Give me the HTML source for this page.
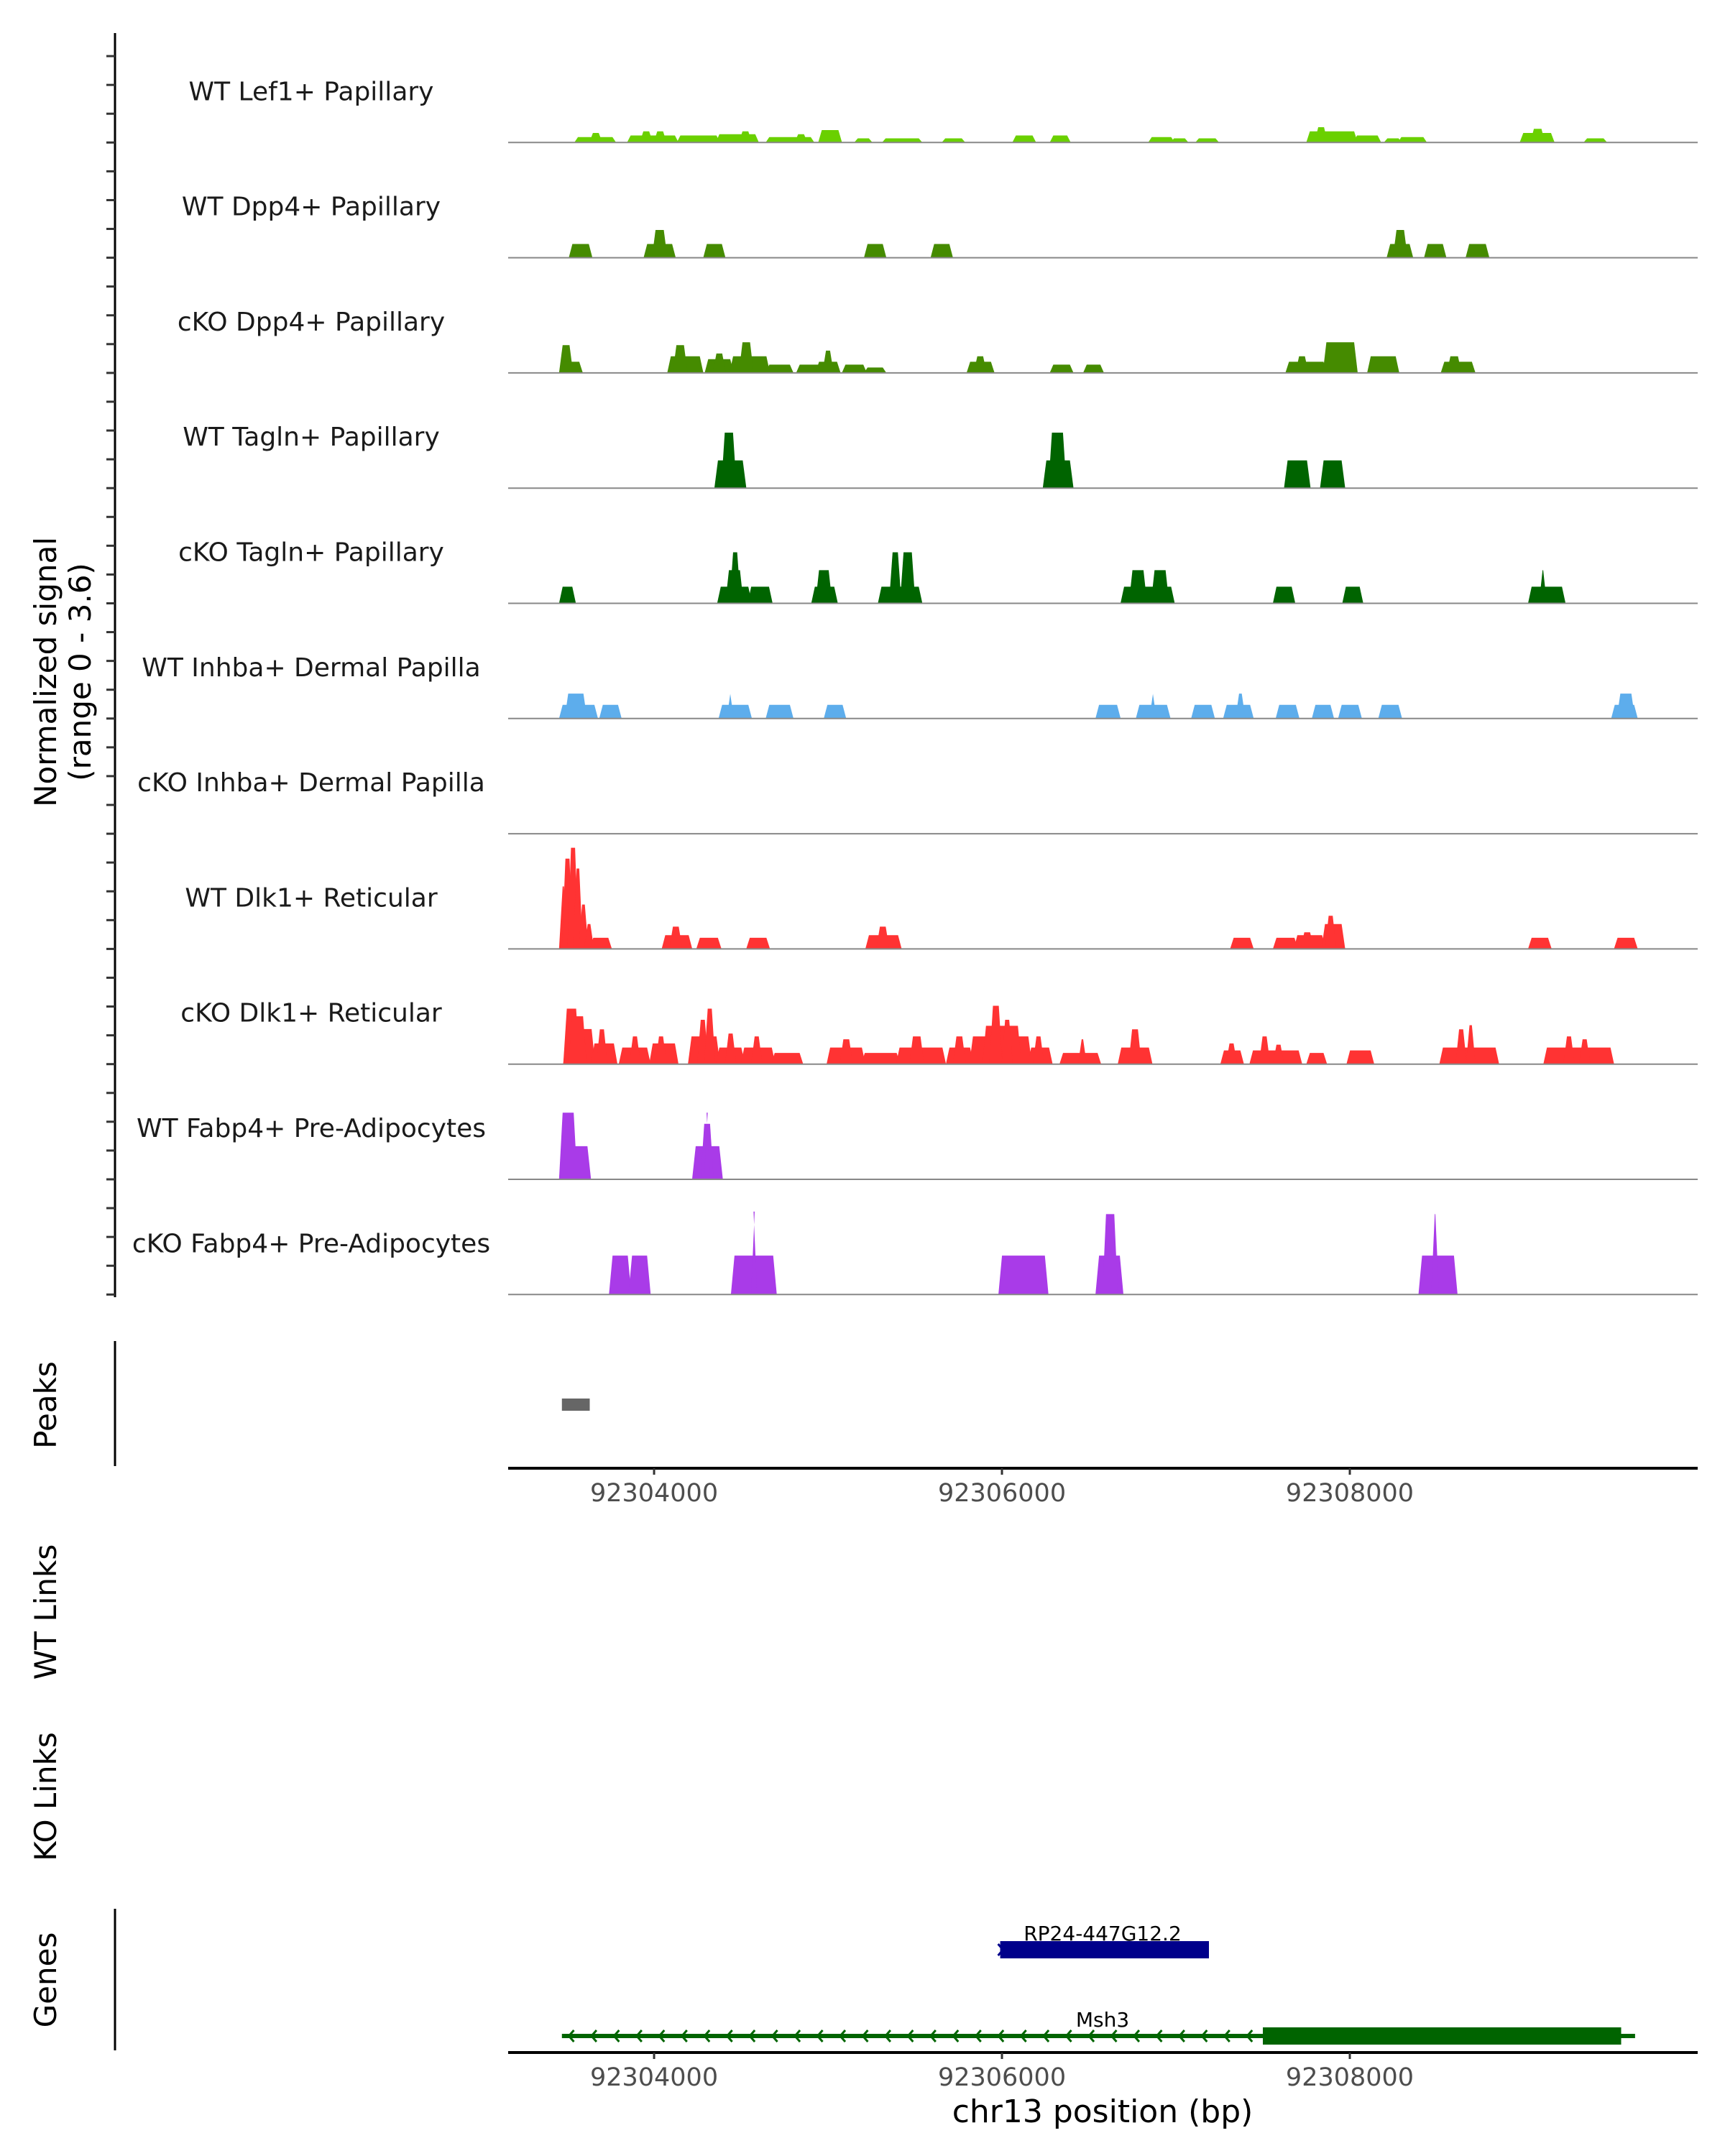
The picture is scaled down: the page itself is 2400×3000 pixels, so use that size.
<!DOCTYPE html>
<html><head><meta charset="utf-8"><style>
html,body{margin:0;padding:0;background:#fff}
svg{display:block}
text{font-family:"DejaVu Sans","Liberation Sans",sans-serif}
</style></head><body>
<svg id="fig" width="2400" height="3000" viewBox="0 0 2400 3000" xmlns="http://www.w3.org/2000/svg">
<g id="tracks"></g>
<g id="axes"></g>
</svg>
<script>
const trackNames = ["WT Lef1+ Papillary","WT Dpp4+ Papillary","cKO Dpp4+ Papillary","WT Tagln+ Papillary","cKO Tagln+ Papillary","WT Inhba+ Dermal Papilla","cKO Inhba+ Dermal Papilla","WT Dlk1+ Reticular","cKO Dlk1+ Reticular","WT Fabp4+ Pre-Adipocytes","cKO Fabp4+ Pre-Adipocytes"];
const trackColors = ["#6ad000","#458b00","#458b00","#006400","#006400","#5dadec","#5dadec","#ff3333","#ff3333","#a93be8","#a93be8"];
// segments: [start offset from 92300000, end offset, normalized signal]
const lef1WT = [[3554,3769,0.17],[3640,3690,0.3],[3857,4128,0.22],[3930,3980,0.35],[4010,4060,0.35],[4143,4367,0.22],[4367,4590,0.26],[4500,4550,0.35],[4654,4909,0.17],[4820,4870,0.26],[4956,5068,0.39],[5163,5243,0.13],[5323,5530,0.13],[5666,5777,0.13],[6072,6184,0.22],[6287,6383,0.22],[6853,6981,0.17],[6981,7060,0.13],[7124,7236,0.13],[7762,8033,0.35],[7810,7860,0.48],[8033,8168,0.22],[8208,8288,0.13],[8288,8431,0.17],[8989,9165,0.3],[9050,9110,0.43],[9356,9467,0.13]];
const dpp4WT = [[3522,3633,0.43],[3952,4112,0.43],[4000,4064,0.87],[4295,4398,0.43],[5219,5323,0.43],[5602,5706,0.43],[8224,8352,0.43],[8260,8320,0.87],[8439,8543,0.43],[8678,8790,0.43]];
const dpp4KO = [[3466,3522,0.87],[3466,3578,0.35],[4088,4271,0.52],[4120,4180,0.87],[4303,4446,0.43],[4350,4400,0.61],[4446,4654,0.52],[4500,4560,0.96],[4654,4789,0.26],[4829,4964,0.26],[4940,5060,0.35],[4980,5020,0.7],[5092,5211,0.26],[5219,5323,0.17],[5809,5945,0.35],[5850,5900,0.52],[6287,6399,0.26],[6479,6574,0.26],[7642,7857,0.35],[7700,7750,0.52],[7857,8033,0.96],[8112,8272,0.52],[8535,8710,0.35],[8570,8630,0.52]];
const taglnWT = [[4359,4518,0.87],[4398,4462,1.74],[6247,6399,0.87],[6279,6359,1.74],[7634,7762,0.87],[7841,7961,0.87]];
const taglnKO = [[3466,3538,0.52],[4375,4550,0.52],[4422,4502,1.04],[4446,4486,1.6],[4550,4669,0.52],[4916,5044,0.52],[4940,5012,1.04],[5299,5530,0.52],[5363,5410,1.6],[5426,5490,1.6],[6694,6981,0.52],[6742,6822,1.04],[6869,6949,1.04],[7570,7674,0.52],[7969,8065,0.52],[9037,9228,0.52],[9100,9120,1.04]];
const inhbaWT = [[3466,3665,0.43],[3498,3602,0.78],[3697,3801,0.43],[4383,4550,0.43],[4430,4446,0.78],[4654,4789,0.43],[4988,5092,0.43],[6550,6670,0.43],[6782,6957,0.43],[6860,6876,0.78],[7100,7212,0.43],[7284,7435,0.43],[7355,7387,0.78],[7586,7698,0.43],[7794,7897,0.43],[7945,8057,0.43],[8176,8288,0.43],[9515,9643,0.43],[9547,9627,0.78]];
const inhbaKO = [];
const dlk1WT = [[3466,3490,1.96],[3482,3522,2.83],[3514,3554,3.17],[3546,3578,2.52],[3578,3610,1.39],[3610,3642,0.78],[3642,3745,0.35],[4056,4207,0.43],[4100,4150,0.7],[4255,4375,0.35],[4542,4654,0.35],[5227,5411,0.43],[5290,5340,0.7],[7324,7435,0.35],[7570,7690,0.35],[7690,7849,0.43],[7730,7780,0.52],[7849,7961,0.78],[7870,7910,1.04],[9037,9148,0.35],[9531,9643,0.35]];
const dlk1KO = [[3490,3649,1.1],[3490,3560,1.74],[3520,3600,1.5],[3649,3777,0.65],[3680,3720,1.09],[3809,3968,0.52],[3870,3910,0.87],[3984,4128,0.65],[4020,4060,0.87],[4207,4367,0.87],[4260,4300,1.39],[4300,4340,1.74],[4367,4510,0.52],[4420,4460,0.96],[4510,4685,0.52],[4570,4610,0.87],[4685,4845,0.35],[5004,5203,0.52],[5080,5130,0.78],[5203,5403,0.35],[5403,5666,0.52],[5480,5540,0.87],[5690,5825,0.52],[5730,5780,0.87],[5825,6160,0.87],[5900,6100,1.2],[5940,5990,1.83],[6010,6050,1.39],[6160,6279,0.52],[6190,6230,0.87],[6343,6558,0.35],[6450,6475,0.78],[6678,6853,0.52],[6740,6790,1.09],[7268,7379,0.43],[7300,7340,0.65],[7435,7714,0.43],[7490,7530,0.87],[7570,7610,0.61],[7762,7857,0.35],[7993,8128,0.43],[8527,8846,0.52],[8620,8660,1.09],[8680,8710,1.22],[9125,9507,0.52],[9240,9280,0.87],[9330,9370,0.78]];
const fabp4WT = [[3466,3546,2.09],[3466,3625,1.04],[4231,4383,1.04],[4280,4330,1.74],[4300,4310,2.09]];
const fabp4KO = [[3753,3857,1.22],[3865,3968,1.22],[4454,4693,1.22],[4570,4580,2.6],[5992,6255,1.22],[6550,6686,1.22],[6590,6654,2.52],[8407,8607,1.22],[8480,8500,2.52]];
const trackData = [lef1WT,dpp4WT,dpp4KO,taglnWT,taglnKO,inhbaWT,inhbaKO,dlk1WT,dlk1KO,fabp4WT,fabp4KO];
const xTicks = [92304000,92306000,92308000];
const peaks = [[92303470,92303630]];
const genes = [
 {name:"RP24-447G12.2", start:92305990, end:92307190, cds:[92305990,92307190], strand:1, color:"#00008b", row:0},
 {name:"Msh3", start:92303470, end:92309640, cds:[92307500,92309560], strand:-1, color:"#006400", row:1}
];

const NS="http://www.w3.org/2000/svg";
const X0=707, X1=2362, BP0=92303161, BP1=92310000;
function xs(bp){return X0+(bp-BP0)*(X1-X0)/(BP1-BP0);}
const TOP=38, TH=160.3, YPU=44.4;
function mk(tag,attrs,parent){const e=document.createElementNS(NS,tag);for(const k in attrs)e.setAttribute(k,attrs[k]);parent.appendChild(e);return e;}
const tg=document.getElementById('tracks');
const ag=document.getElementById('axes');

trackData.forEach((segs,i)=>{
  const base=TOP+TH*(i+1);
  const g=mk('g',{},tg);
  
  
  const lab=mk('text',{x:433,y:base-59,'text-anchor':'middle','font-size':36,fill:'#1a1a1a'},g);
  lab.textContent=trackNames[i];
  
  
  segs.forEach(s=>{
    const a=xs(92300000+s[0]), b=xs(92300000+s[1]), h=s[2]*YPU;
    const p=mk('polygon',{points:`${a-3},${base} ${a+2},${base-h} ${b-2},${base-h} ${b+3},${base}`,fill:trackColors[i]},g);
    
    
  });
  const bl=mk('line',{x1:X0,x2:X1,y1:base,y2:base,stroke:'#888',"stroke-width":2},g);
  
  
});

// left signal axis
let l=mk('line',{x1:160,x2:160,y1:46,y2:1805,stroke:'#000','stroke-width':3},ag);


for(let i=0;i<11;i++){
  for(let k=0;k<4;k++){
    const y=TOP+TH*i+TH*(k+1)/4;
    const t=mk('line',{x1:148,x2:160,y1:y,y2:y,stroke:'#333','stroke-width':3},ag);
    
    
  }
}
let yt=mk('text',{transform:'translate(78,935) rotate(-90)','text-anchor':'middle','font-size':42,fill:'#000'},ag);
yt.textContent='Normalized signal';


let yt2=mk('text',{transform:'translate(126,935) rotate(-90)','text-anchor':'middle','font-size':42,fill:'#000'},ag);
yt2.textContent='(range 0 - 3.6)';



// peaks panel
l=mk('line',{x1:160,x2:160,y1:1866,y2:2040,stroke:'#000','stroke-width':3},ag);


let pt=mk('text',{transform:'translate(78,1955) rotate(-90)','text-anchor':'middle','font-size':42,fill:'#000'},ag);
pt.textContent='Peaks';


peaks.forEach(p=>{
  const r=mk('rect',{x:xs(p[0]),y:1946,width:xs(p[1])-xs(p[0]),height:17,fill:'#666'},ag);
  
  
});
function xaxis(y){
  const ln=mk('line',{x1:X0,x2:X1,y1:y,y2:y,stroke:'#000','stroke-width':4},ag);
  
  
  xTicks.forEach(v=>{
    const tk=mk('line',{x1:xs(v),x2:xs(v),y1:y,y2:y+9,stroke:'#333','stroke-width':3},ag);
    
    
    const tl=mk('text',{x:xs(v),y:y+46,'text-anchor':'middle','font-size':35,fill:'#4d4d4d'},ag);
    tl.textContent=v;
    
    
  });
}
xaxis(2043);

let wl=mk('text',{transform:'translate(78,2243) rotate(-90)','text-anchor':'middle','font-size':42,fill:'#000'},ag);
wl.textContent='WT Links';


let kl=mk('text',{transform:'translate(78,2500) rotate(-90)','text-anchor':'middle','font-size':42,fill:'#000'},ag);
kl.textContent='KO Links';



// genes
l=mk('line',{x1:160,x2:160,y1:2656,y2:2853,stroke:'#000','stroke-width':3},ag);


let gt=mk('text',{transform:'translate(78,2755) rotate(-90)','text-anchor':'middle','font-size':42,fill:'#000'},ag);
gt.textContent='Genes';


genes.forEach(g=>{
  const y=g.row===0?2713:2833;
  const gg=mk('g',{},ag);
  
  
  mk('line',{x1:xs(g.start),x2:xs(g.end),y1:y,y2:y,stroke:g.color,'stroke-width':6},gg);
  if(g.strand<0){
    for(let b=g.start+40;b<g.end-40;b+=130){
      const x=xs(b);
      mk('polyline',{points:`${x+7},${y-8} ${x},${y} ${x+7},${y+8}`,fill:'none',stroke:g.color,'stroke-width':3},gg);
    }
  } else {
    const x=xs(g.start);
    mk('polyline',{points:`${x-3},${y-8} ${x+4},${y} ${x-3},${y+8}`,fill:'none',stroke:g.color,'stroke-width':3},gg);
  }
  mk('rect',{x:xs(g.cds[0]),y:y-12,width:xs(g.cds[1])-xs(g.cds[0]),height:24,fill:g.color},gg);
  const t=mk('text',{x:1534,y:y-13,'text-anchor':'middle','font-size':28,fill:'#000'},gg);
  t.textContent=g.name;
  
  
});
xaxis(2856);
let xt=mk('text',{x:1534,y:2953,'text-anchor':'middle','font-size':44,fill:'#000'},ag);
xt.textContent='chr13 position (bp)';


</script>
</body></html>
